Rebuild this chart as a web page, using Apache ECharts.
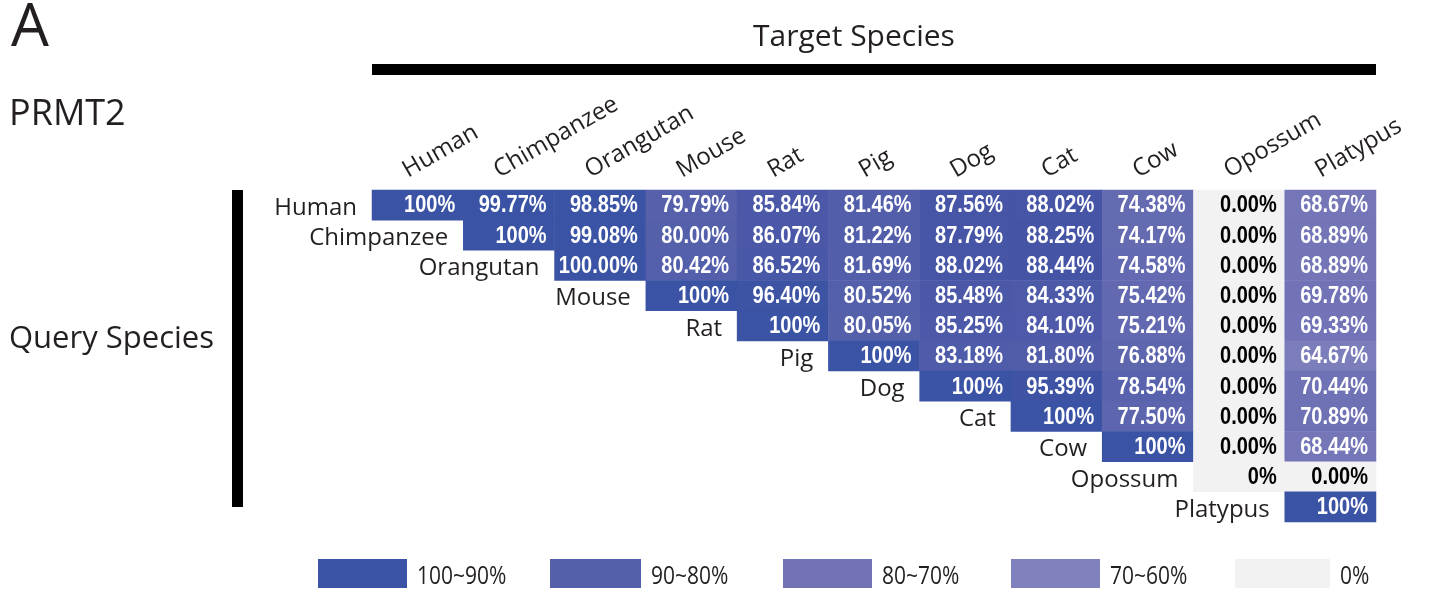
<!DOCTYPE html>
<html><head><meta charset="utf-8">
<script src="https://cdn.jsdelivr.net/npm/echarts@6/dist/echarts.min.js"></script>
<style>html,body{margin:0;padding:0;background:#fff}#c{width:1445px;height:592px}</style>
</head><body><div id="c"></div>
<script>
// ---- data ----
const species = ['Human','Chimpanzee','Orangutan','Mouse','Rat','Pig','Dog','Cat','Cow','Opossum','Platypus'];
const human      = ['100%','99.77%','98.85%','79.79%','85.84%','81.46%','87.56%','88.02%','74.38%','0.00%','68.67%'];
const chimpanzee = ['100%','99.08%','80.00%','86.07%','81.22%','87.79%','88.25%','74.17%','0.00%','68.89%'];
const orangutan  = ['100.00%','80.42%','86.52%','81.69%','88.02%','88.44%','74.58%','0.00%','68.89%'];
const mouse      = ['100%','96.40%','80.52%','85.48%','84.33%','75.42%','0.00%','69.78%'];
const rat        = ['100%','80.05%','85.25%','84.10%','75.21%','0.00%','69.33%'];
const pig        = ['100%','83.18%','81.80%','76.88%','0.00%','64.67%'];
const dog        = ['100%','95.39%','78.54%','0.00%','70.44%'];
const cat        = ['100%','77.50%','0.00%','70.89%'];
const cow        = ['100%','0.00%','68.44%'];
const opossum    = ['0%','0.00%'];
const platypus   = ['100%'];
const rowsText = [human, chimpanzee, orangutan, mouse, rat, pig, dog, cat, cow, opossum, platypus];
const legendLabels = ['100~90%','90~80%','80~70%','70~60%','0%'];

// ---- styles ----
const legendColors = ['#3a53a4','#5560ab','#7173b6','#7f81bd','#f2f2f2'];
const rampColors = ['#8587c1','#7173b6','#5560ab','#4352a5','#3a53a4'];
const zeroColor = '#f2f2f2';
const txtColor = '#231f20';
const font = 'Open Sans';
const rampMin = 60, rampMax = 100;

const heat = [];
const cellText = [];
rowsText.forEach((row, i) => {
  row.forEach((t, k) => {
    const j = i + k;
    const v = parseFloat(t);
    const c = v > 0
      ? echarts.color.lerp(Math.max(0, Math.min(1, (v - rampMin) / (rampMax - rampMin))), rampColors)
      : zeroColor;
    heat.push({value: [j, i, v], itemStyle: {color: c}});
    cellText.push([j, i, v, t]);
  });
});

const legendX = [318, 550, 783, 1011, 1235];
const legendW = [89, 91, 89, 89, 95];
const graphics = [
  {type:'text', x:11, y:29, style:{text:'A', fontSize:60, fontFamily:font, fill:txtColor, textVerticalAlign:'middle'}},
  {type:'text', x:9, y:115, style:{text:'PRMT2', fontSize:36, fontFamily:font, fill:txtColor, textVerticalAlign:'middle'}},
  {type:'text', x:854, y:37, style:{text:'Target Species', fontSize:30, fontFamily:font, fill:txtColor, textAlign:'center', textVerticalAlign:'middle'}},
  {type:'rect', shape:{x:372, y:64, width:1004, height:11}, style:{fill:'#000'}},
  {type:'text', x:9, y:339, style:{text:'Query Species', fontSize:31, fontFamily:font, fill:txtColor, textVerticalAlign:'middle'}},
  {type:'rect', shape:{x:232, y:190, width:11, height:317}, style:{fill:'#000'}}
];
legendLabels.forEach((l, k) => {
  graphics.push({type:'rect', shape:{x:legendX[k], y:559, width:legendW[k], height:29}, style:{fill:legendColors[k]}});
  graphics.push({type:'text', x:legendX[k]+legendW[k]+10, y:577, scaleY:1.2,
    style:{text:l, fontSize:21, fontFamily:font, fill:txtColor, textVerticalAlign:'middle'}});
});

const chart = echarts.init(document.getElementById('c'));
chart.setOption({
  animation: false,
  backgroundColor: '#fff',
  grid: {left:372, top:190, width:1004, height:332, containLabel:false},
  xAxis: {
    type:'category', position:'top', data: species,
    axisLine:{show:false}, axisTick:{show:false}, splitLine:{show:false}, axisLabel:{show:false}
  },
  yAxis: {type:'category', inverse:true, data: species, show:false},
  graphic: graphics,
  series: [
    {
      type:'heatmap', data: heat,
      itemStyle:{borderWidth:0},
      label:{show:false},
      emphasis:{disabled:true}
    },
    {
      // cell value texts
      type:'custom', coordinateSystem:'cartesian2d', clip:false,
      data: cellText.map(d => [d[0], d[1], d[2]]),
      encode:{x:0, y:1},
      renderItem: function (params, api) {
        const p = api.coord([api.value(0), api.value(1)]);
        const w = api.size([1, 1]);
        const v = api.value(2);
        return {type:'text', x: p[0] + w[0] / 2 - 8, y: p[1] + 1, scaleY: 1.15,
          style:{text: cellText[params.dataIndex][3], textAlign:'right', textVerticalAlign:'middle',
            fontSize:20, fontWeight:'bold', fontFamily:'Liberation Sans',
            fill: v > 0 ? '#ffffff' : '#000000'}};
      }
    },
    {
      // row (query species) labels beside the diagonal
      type:'custom', coordinateSystem:'cartesian2d', clip:false,
      data: species.map((s, i) => [i, i]),
      encode:{x:0, y:1},
      renderItem: function (params, api) {
        const p = api.coord([api.value(0), api.value(1)]);
        const w = api.size([1, 0])[0];
        return {type:'text', x: p[0] - w / 2 - 15, y: p[1] + 3,
          style:{text: species[api.value(1)], textAlign:'right', textVerticalAlign:'middle',
            fontSize:24, fontFamily:font, fill:txtColor}};
      }
    },
    {
      // column (target species) labels, rotated
      type:'custom', coordinateSystem:'cartesian2d', clip:false,
      data: species.map((s, j) => [j, 0]),
      encode:{x:0, y:1},
      renderItem: function (params, api) {
        const p = api.coord([api.value(0), api.value(1)]);
        const s = api.size([1, 1]);
        return {type:'text', x: p[0] - 13, y: p[1] - s[1] / 2 - 18, rotation: Math.PI / 6,
          style:{text: species[api.value(0)], textAlign:'left', textVerticalAlign:'middle',
            fontSize:24, fontFamily:font, fill:txtColor}};
      }
    }
  ]
});
</script></body></html>
